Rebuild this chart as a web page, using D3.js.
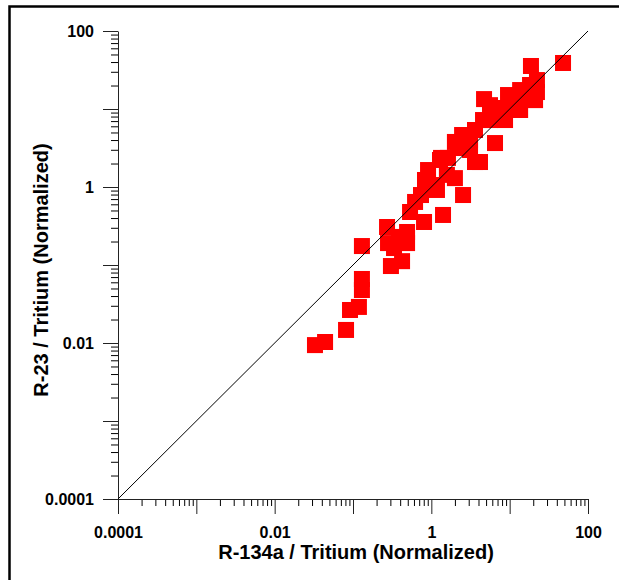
<!DOCTYPE html>
<html>
<head>
<meta charset="utf-8">
<script src="https://cdn.jsdelivr.net/npm/d3@7"></script>
<style>
body { margin: 0; background: #fff; }
text { font-family: Arial, "Liberation Sans", sans-serif; font-weight: bold; }
</style>
</head>
<body>
<div id="chart"></div>
<script>
// R-134a / Tritium vs R-23 / Tritium (normalized)
var r134a = [0.0327, 0.044, 0.0815, 0.0916, 0.119, 0.13, 0.13, 0.13, 0.272, 0.28,
    0.305, 0.423, 0.334, 0.49, 0.49, 0.535, 0.738, 0.807, 1.41, 2.54,
    0.908, 1.33, 2.19, 0.83, 2.0, 1.29, 3.61, 1.63, 2.0, 2.47,
    3.12, 3.61, 4.57, 5.61, 6.5, 7.53, 8.73, 4.71, 7.76, 9.53,
    13.6, 14.8, 18.2, 21.1, 18.7, 22.3, 48.0, 1.02, 0.62, 0.386,
    4.18, 3.12, 11.7, 13.6, 5.61, 1.18, 1.58, 22.3];
var r23 = [0.0094, 0.0103, 0.0147, 0.0265, 0.029, 0.0478, 0.0662, 0.175, 0.307, 0.191,
    0.097, 0.112, 0.165, 0.191, 0.265, 0.478, 0.789, 0.356, 0.438, 0.789,
    1.65, 2.36, 3.16, 1.23, 1.3, 2.22, 2.09, 2.36, 3.78, 4.64,
    4.01, 5.38, 7.22, 7.22, 3.66, 8.38, 7.22, 13.4, 10.3, 15.1,
    17.5, 15.1, 20.3, 13.0, 35.6, 23.5, 38.9, 1.06, 0.643, 0.229,
    2.09, 2.98, 11.2, 9.71, 11.2, 0.916, 1.43, 16.5];

var decades = [0.0001, 0.001, 0.01, 0.1, 1, 10, 100];
var tickLabels = {"0.0001": "0.0001", "0.01": "0.01", "1": "1", "100": "100"};

var width = 619, height = 580;
var mLeft = 118, mRight = 588, mTop = 31, mBottom = 499;

var svg = d3.select("#chart").append("svg")
    .attr("width", width)
    .attr("height", height);

// outer frame (runs off the right/bottom edge)
svg.append("rect")
    .attr("x", 9.5).attr("y", 6.5)
    .attr("width", 700).attr("height", 700)
    .attr("fill", "none")
    .attr("stroke", "#000")
    .attr("stroke-width", 2.5);

var x = d3.scaleLog().domain([0.0001, 100]).range([mLeft, mRight]);
var y = d3.scaleLog().domain([0.0001, 100]).range([mBottom, mTop]);

var minors = [];
decades.slice(0, -1).forEach(d => {
    for (var k = 2; k <= 9; k++) minors.push(d * k);
});

function fmt(d) {
    var key = String(+d.toPrecision(1));
    return tickLabels[key] || "";
}

// minor ticks
svg.append("g")
    .attr("transform", `translate(0,${mBottom})`)
    .call(d3.axisBottom(x).tickValues(minors).tickSize(7).tickFormat(""))
    .call(g => g.select(".domain").remove());
svg.append("g")
    .attr("transform", `translate(${mLeft},0)`)
    .call(d3.axisLeft(y).tickValues(minors).tickSize(7).tickFormat(""))
    .call(g => g.select(".domain").remove());

// major ticks + labels
var xAxis = svg.append("g")
    .attr("transform", `translate(0,${mBottom})`)
    .call(d3.axisBottom(x).tickValues(decades).tickSize(15).tickSizeOuter(0).tickPadding(13).tickFormat(fmt));
var yAxis = svg.append("g")
    .attr("transform", `translate(${mLeft},0)`)
    .call(d3.axisLeft(y).tickValues(decades).tickSize(15).tickSizeOuter(0).tickPadding(9).tickFormat(fmt));

[xAxis, yAxis].forEach(a => {
    a.attr("font-size", 16);
    a.selectAll("text").attr("fill", "#000")
        .style("font-family", "Arial, 'Liberation Sans', sans-serif").style("font-weight", "bold");
    a.selectAll("line, path").attr("stroke", "#222");
});

// points
svg.append("g")
    .selectAll("rect")
    .data(r134a.map((v, i) => [v, r23[i]]))
    .enter().append("rect")
    .attr("x", d => x(d[0]) - 8)
    .attr("y", d => y(d[1]) - 8)
    .attr("width", 16)
    .attr("height", 16)
    .attr("fill", "#ff0000");

// 1:1 line
svg.append("line")
    .attr("x1", x(0.0001)).attr("y1", y(0.0001))
    .attr("x2", x(100)).attr("y2", y(100))
    .attr("stroke", "#000")
    .attr("stroke-width", 1);

svg.append("text")
    .attr("x", (mLeft + mRight) / 2 + 3)
    .attr("y", 559)
    .attr("text-anchor", "middle")
    .attr("font-size", 20)
    .text("R-134a / Tritium (Normalized)");

svg.append("text")
    .attr("transform", `translate(48,${(mTop + mBottom) / 2 + 5}) rotate(-90)`)
    .attr("text-anchor", "middle")
    .attr("font-size", 20)
    .text("R-23 / Tritium (Normalized)");
</script>
</body>
</html>
